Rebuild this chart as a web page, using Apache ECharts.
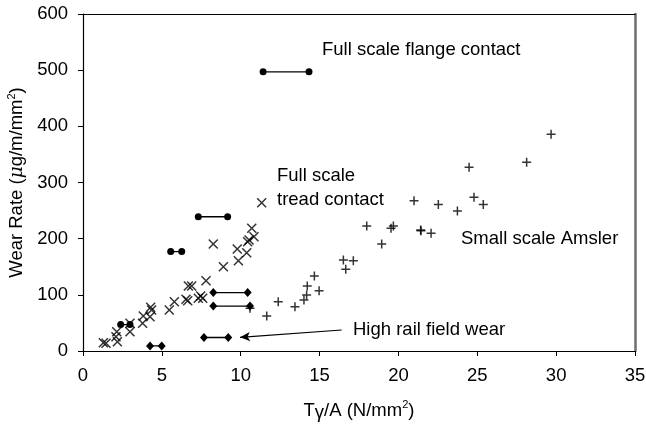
<!DOCTYPE html>
<html>
<head>
<meta charset="utf-8">
<script src="https://cdn.jsdelivr.net/npm/echarts@6/dist/echarts.min.js"></script>
<style>html,body{margin:0;padding:0;background:#fff}#c{width:646px;height:424px}</style>
</head>
<body>
<div id="c"></div>
<script>
// Full scale tread contact (x markers)
const treadX = [1.29,1.46,2.09,2.18,2.14,2.98,2.98,3.78,3.82,4.25,4.35,4.29,5.47,5.79,6.53,6.64,6.68,6.89,7.31,7.46,7.59,7.80,8.26,8.90,9.78,9.85,10.38,10.44,10.53,10.70,10.84,11.33];
const treadY = [14.8,13.7,25.5,16.6,34.4,34.4,49.3,49.3,62.3,61.0,73.0,77.8,73.0,87.8,92.0,89.6,115.7,115.7,93.8,97.9,93.8,125.2,190.5,150.0,181.6,160.8,175.0,194.6,197.6,218.4,203.5,264.0];
// Small scale Amsler (+ markers)
const amslerX = [10.59,11.65,12.38,13.44,14.01,14.18,14.22,14.67,14.97,16.51,16.66,17.14,17.99,18.94,19.53,19.68,20.99,21.43,21.41,22.07,22.53,23.74,24.48,24.79,25.38,28.13,29.68];
const amslerY = [76.0,62.3,87.8,79.0,90.8,99.7,115.7,133.5,107.4,162.0,145.4,160.8,222.5,190.5,218.4,222.5,267.6,214.2,215.4,209.5,261.0,249.2,327.0,273.6,261.0,336.0,385.8];
// Full scale contact ranges (circle end points)
const circleX1 = [11.42,7.31,5.56,2.39];
const circleX2 = [14.33,9.17,6.26,2.98];
const circleY  = [497,239,177,47];
// High rail field wear ranges (diamond end points)
const diamondX1 = [8.26,8.26,7.67,4.25];
const diamondX2 = [10.44,10.59,9.21,4.99];
const diamondY  = [104,80,24,9];
// Arrow pointing to field wear
const arrowFrom = [16.4,37.4];
const arrowTo = [9.96,24.4];
// Axis ticks
const xTicks = [0,5,10,15,20,25,30,35];
const yTicks = [0,100,200,300,400,500,600];

const FONT = 'Liberation Sans, Arial, sans-serif';
const FS = 18.5;
const crossPath = 'path://M0,0L10,10M10,0L0,10';
const plusPath = 'path://M5,0L5,10M0,5L10,5';

const series = [];
series.push({
  type:'scatter', name:'tread', data: treadX.map((x,i)=>[x,treadY[i]]),
  symbol: crossPath, symbolSize: 9,
  itemStyle:{color:'rgba(0,0,0,0)', borderColor:'#000', borderWidth:1.5}, z:3
});
series.push({
  type:'scatter', name:'amsler', data: amslerX.map((x,i)=>[x,amslerY[i]]),
  symbol: plusPath, symbolSize: 9,
  itemStyle:{color:'rgba(0,0,0,0)', borderColor:'#000', borderWidth:1.5}, z:3
});
circleY.forEach((y,i)=>{
  series.push({type:'line', data:[[circleX1[i],y],[circleX2[i],y]], symbol:'circle', symbolSize:7,
    showSymbol:true, lineStyle:{color:'#000', width:1.3}, itemStyle:{color:'#000'}, z:4, animation:false});
});
diamondY.forEach((y,i)=>{
  series.push({type:'line', data:[[diamondX1[i],y],[diamondX2[i],y]], symbol:'diamond', symbolSize:[8,9],
    showSymbol:true, lineStyle:{color:'#000', width:1.3}, itemStyle:{color:'#000'}, z:4, animation:false});
});
series.push({
  type:'line', data:[], silent:true,
  markLine:{silent:true, symbol:['none','arrow'], symbolSize:[7,10], label:{show:false},
    lineStyle:{color:'#000', width:1.2, type:'solid'},
    data:[[{coord:arrowFrom},{coord:arrowTo}]]}
});

const chart = echarts.init(document.getElementById('c'), null, {renderer:'canvas'});
const axisCommon = {
  axisLine:{show:true, onZero:false, lineStyle:{color:'#000', width:1.2}},
  axisTick:{show:true, inside:false, length:5, lineStyle:{color:'#000', width:1}},
  splitLine:{show:false},
};
chart.setOption({
  animation:false,
  backgroundColor:'#fff',
  textStyle:{fontFamily:FONT},
  grid:{left:83, right:11, top:14, bottom:73, containLabel:false, outerBoundsMode:'none'},
  xAxis:[{
    type:'value', min:xTicks[0], max:xTicks[xTicks.length-1], interval:5, ...axisCommon,
    axisLabel:{color:'#000', fontSize:FS, fontFamily:FONT, margin:15},
    name:'T{g|γ}/A (N/mm{sup|2})', nameLocation:'middle', nameGap:48,
    nameTextStyle:{color:'#000', fontSize:FS, fontFamily:FONT,
      rich:{g:{fontSize:FS, fontFamily:FONT, color:'#000', padding:[4,0,0,0]}, sup:{fontSize:11, fontFamily:FONT, color:'#000', verticalAlign:'top', padding:[0,0,10,0]}}}
  },{
    type:'value', position:'top', min:0, max:35,
    axisLine:{show:true, onZero:false, lineStyle:{color:'#000', width:1.2}},
    axisTick:{show:false}, axisLabel:{show:false}, splitLine:{show:false}
  }],
  yAxis:[{
    type:'value', min:yTicks[0], max:yTicks[yTicks.length-1], interval:100, ...axisCommon,
    axisLabel:{color:'#000', fontSize:FS, fontFamily:FONT, margin:15},
    name:'Wear Rate ({mu|μ}g/m/mm{sup|2})', nameLocation:'middle', nameGap:38, nameRotate:90,
    nameTextStyle:{color:'#000', fontSize:FS, fontFamily:FONT,
      rich:{mu:{fontSize:FS, fontFamily:'DejaVu Serif', fontStyle:'italic', color:'#000'}, sup:{fontSize:11, fontFamily:FONT, color:'#000', padding:[0,0,10,0]}}}
  },{
    type:'value', position:'right', min:0, max:600,
    axisLine:{show:true, onZero:false, lineStyle:{color:'#6e6e6e', width:2.5}},
    axisTick:{show:false}, axisLabel:{show:false}, splitLine:{show:false}
  }],
  series: series,
  graphic:[
    {type:'text', left:322, top:40, style:{text:'Full scale flange contact', font:FS+'px '+FONT, fill:'#000'}},
    {type:'text', left:277, top:166, style:{text:'Full scale', font:FS+'px '+FONT, fill:'#000'}},
    {type:'text', left:277, top:190, style:{text:'tread contact', font:FS+'px '+FONT, fill:'#000'}},
    {type:'text', left:461, top:229, style:{text:'Small scale Amsler', font:FS+'px '+FONT, fill:'#000'}},
    {type:'text', left:353, top:320, style:{text:'High rail field wear', font:FS+'px '+FONT, fill:'#000'}}
  ]
});
</script>
</body>
</html>
